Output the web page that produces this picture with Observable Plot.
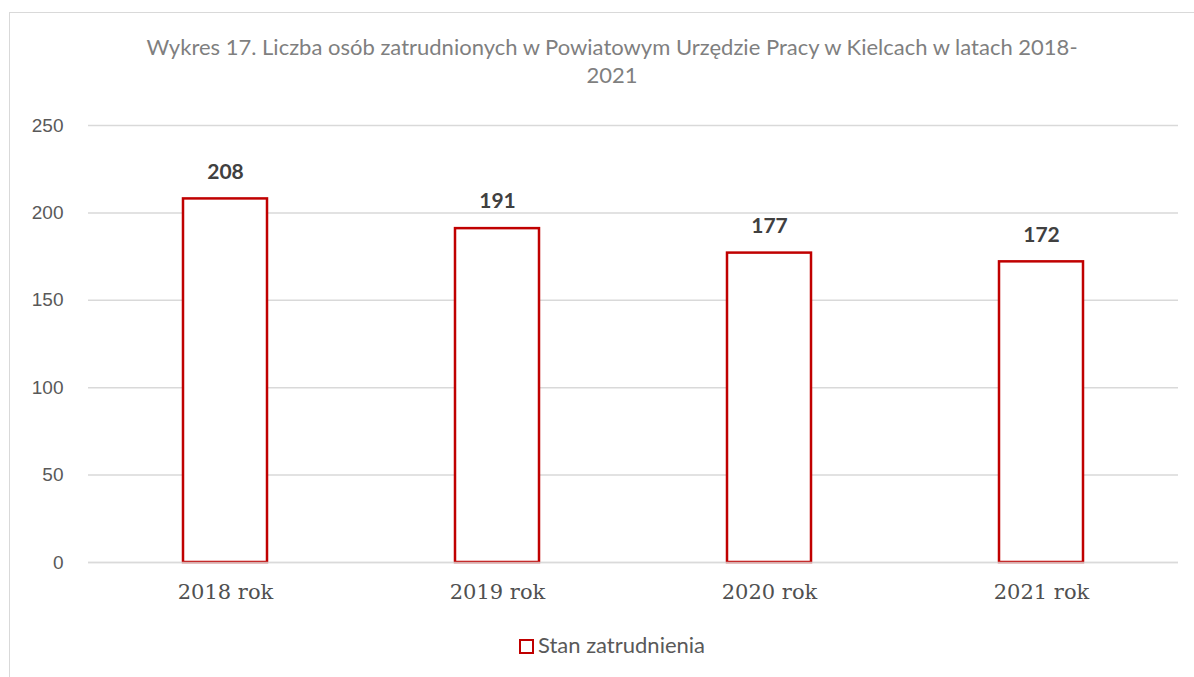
<!DOCTYPE html>
<html>
<head>
<meta charset="utf-8">
<script src="https://cdn.jsdelivr.net/npm/d3@7"></script>
<script src="https://cdn.jsdelivr.net/npm/@observablehq/plot@0.6"></script>
<style>
  html, body { margin: 0; padding: 0; background: #fff; }
  #wrap { position: relative; width: 1194px; height: 677px; overflow: hidden; }
  #frame { position: absolute; left: 9px; top: 12px; width: 1200px; height: 700px; border: 1.5px solid #d9d9d9; box-sizing: border-box; }
  #title { position: absolute; left: 0; top: 33px; width: 1224px; text-align: center; font-family: Lato, "Open Sans", sans-serif; font-size: 22px; line-height: 28px; color: #7f7f7f; }
  #chart { position: absolute; left: 0; top: 0; }
  #legend { position: absolute; left: 0; top: 631px; width: 1224px; text-align: center; font-family: Lato, "Open Sans", sans-serif; font-size: 22px; color: #595959; }
  #legend .sw { display: inline-block; width: 11px; height: 11px; border: 2.5px solid #c00000; vertical-align: -1px; margin-right: 4px; background: #fff; }
</style>
</head>
<body>
<div id="wrap">
  <div id="frame"></div>
  <div id="chart"></div>
  <div id="title">Wykres 17. Liczba osób zatrudnionych w Powiatowym Urzędzie Pracy w Kielcach w latach 2018-<br>2021</div>
  <div id="legend"><span class="sw"></span>Stan zatrudnienia</div>
</div>
<script>
const categories = ["2018 rok", "2019 rok", "2020 rok", "2021 rok"];
const values = [208, 191, 177, 172];
const yTicks = [0, 50, 100, 150, 200, 250];
const seriesName = "Stan zatrudnienia";

const data = categories.map((c, i) => ({category: c, value: values[i], series: seriesName}));

const chart = Plot.plot({
  width: 1194,
  height: 610,
  marginTop: 125,
  marginBottom: 48,
  marginLeft: 88,
  marginRight: 16,
  style: {background: "transparent", overflow: "visible"},
  x: {domain: categories, paddingInner: 0.69, paddingOuter: 0.345, label: null},
  y: {domain: [0, 250], ticks: yTicks, label: null},
  marks: [
    Plot.gridY(yTicks, {stroke: "#d9d9d9", strokeOpacity: 1, strokeWidth: 1.5}),
    Plot.barY(data, {x: "category", y: "value", fill: "#fff", stroke: "#c00000", strokeWidth: 2.5, inset: 0}),
    Plot.ruleY([0], {stroke: "#d9d9d9", strokeOpacity: 0.8, strokeWidth: 1.5}),
    Plot.text(data, {x: "category", y: "value", text: d => String(d.value), dy: -27, fontSize: 21, fontWeight: "bold", fill: "#404040", fontFamily: "Lato, 'Open Sans', sans-serif"}),
    Plot.axisY(yTicks, {tickSize: 0, tickPadding: 25, fontSize: 19, fill: "#595959", fontFamily: "'Liberation Sans', Arial, sans-serif", label: null}),
    Plot.axisX({tickSize: 0, tickPadding: 22, fontSize: 21, fill: "#505050", fontFamily: "'DejaVu Serif', serif", label: null})
  ]
});
document.getElementById("chart").appendChild(chart);
</script>
</body>
</html>
